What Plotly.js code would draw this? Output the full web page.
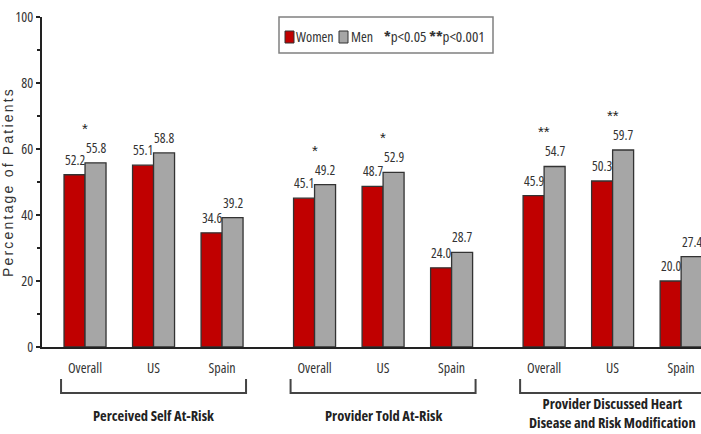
<!DOCTYPE html>
<html><head><meta charset="utf-8">
<script src="https://cdn.plot.ly/plotly-3.0.1.min.js"></script>
<style>html,body{margin:0;padding:0;background:#fff}#chart{width:701px;height:434px}
svg text{font-stretch:82%}
svg text.ytitle{font-stretch:100%;letter-spacing:2.2px}</style>
</head><body><div id="chart"></div>
<script>
// ---- data ----
const groups = ["Perceived Self At-Risk", "Provider Told At-Risk", "Provider Discussed Heart<br>Disease and Risk Modification"];
const subLabels = ["Overall", "US", "Spain"];
const women = [52.2, 55.1, 34.6, 45.1, 48.7, 24.0, 45.9, 50.3, 20.0];
const men = [55.8, 58.8, 39.2, 49.2, 52.9, 28.7, 54.7, 59.7, 27.4];
const significance = ["*", "", "", "*", "*", "", "**", "**", ""];
const seriesNames = ["Women", "Men"];
const pLegend = "<b>*</b>p&lt;0.05 <b>**</b>p&lt;0.001";
const yTicks = [0, 20, 40, 60, 80, 100];
const yMinor = [10, 30, 50, 70, 90];
const yTitle = "Percentage of Patients";

// ---- layout constants ----
const FONT = '"Open Sans", "Liberation Sans", Arial, sans-serif';
const TXT = '#333';
const RED = '#C00000', GRAY = '#A6A6A6', EDGE = '#333';
const GROUP_STRIDE = 3.35, BARGAP = 0.387;
const M = {l: 42, r: 0, t: 17, b: 87};
const W = 701 - M.l - M.r, H = 434 - M.t - M.b;
const PX = p => (p - M.l) / W;
const PY = p => (M.t + H - p) / H;

const pos = [], tickText = [];
groups.forEach((g, gi) => subLabels.forEach((s, si) => { pos.push(gi * GROUP_STRIDE + si); tickText.push(s); }));
const halfBar = (1 - BARGAP) / 4;

const traces = [women, men].map((vals, i) => ({
  type: 'bar', x: pos, y: vals, name: seriesNames[i], showlegend: false,
  marker: {color: i === 0 ? RED : GRAY, line: {color: EDGE, width: 1.3}},
  hoverinfo: 'y'
}));

const annotations = [];
[women, men].forEach((vals, i) => vals.forEach((v, k) => {
  annotations.push({x: pos[k] + (i === 0 ? -halfBar : halfBar), y: v, xref: 'x', yref: 'y',
    text: v.toFixed(1), showarrow: false, yanchor: 'bottom', yshift: 4,
    font: {family: FONT, size: 13.5, color: TXT}});
}));
significance.forEach((s, k) => {
  if (!s) return;
  annotations.push({x: pos[k], y: Math.max(women[k], men[k]), xref: 'x', yref: 'y',
    text: s, showarrow: false, yanchor: 'bottom', yshift: 24,
    font: {family: 'Liberation Sans, Arial, sans-serif', size: 15, color: '#222'}});
});
const shapes = [];
groups.forEach((g, gi) => {
  const x0 = pos[gi * 3] - 0.35, x1 = pos[gi * 3 + 2] + 0.35;
  shapes.push({type: 'path', xref: 'x', yref: 'paper',
    path: `M ${x0},${PY(379)} L ${x0},${PY(393)} L ${x1},${PY(393)} L ${x1},${PY(379)}`,
    line: {color: '#444', width: 2}});
  annotations.push({x: (pos[gi * 3] + pos[gi * 3 + 2]) / 2, xref: 'x', yref: 'paper',
    y: PY(gi === 2 ? 413 : 415), yanchor: 'middle', showarrow: false, text: '<b>' + g + '</b>',
    font: {family: FONT, size: 14.5, color: '#222'}});
});
// legend box
shapes.push({type: 'rect', xref: 'paper', yref: 'paper', x0: PX(279), x1: PX(493), y0: PY(53), y1: PY(17),
  line: {color: '#808080', width: 1.5}, fillcolor: 'rgba(0,0,0,0)'});
[[285, RED], [339, GRAY]].forEach(([px, c]) => shapes.push({type: 'rect', xref: 'paper', yref: 'paper',
  x0: PX(px), x1: PX(px + 9), y0: PY(43), y1: PY(31), fillcolor: c, line: {color: EDGE, width: 1}}));
[[294, seriesNames[0], 14], [349, seriesNames[1], 14], [382, pLegend, 15]].forEach(([px, t, fs]) => annotations.push({
  x: PX(px), y: PY(36), xref: 'paper', yref: 'paper', xanchor: 'left', yanchor: 'middle', showarrow: false,
  text: t, font: {family: FONT, size: fs, color: TXT}}));

const layout = {
  width: 701, height: 434, margin: M, paper_bgcolor: '#fff', plot_bgcolor: '#fff',
  barmode: 'group', bargap: BARGAP, bargroupgap: 0, showlegend: false,
  font: {family: FONT, color: TXT, size: 14},
  xaxis: {range: [-0.628, 8.99], tickvals: pos, ticktext: tickText, ticks: '', showgrid: false, zeroline: false,
    showline: true, linecolor: '#222', linewidth: 2, ticklabelstandoff: 7,
    tickfont: {family: FONT, size: 14, color: TXT}},
  yaxis: {range: [0, 100], tickvals: yTicks, ticks: 'outside', ticklen: 4, tickwidth: 1.5, tickcolor: '#222',
    showgrid: false, zeroline: false, showline: true, linecolor: '#222', linewidth: 2,
    minor: {tickvals: yMinor, ticks: 'outside', ticklen: 3, tickwidth: 1.5, tickcolor: '#222'},
    tickfont: {family: FONT, size: 14, color: TXT},
    title: {text: yTitle, font: {family: '"Liberation Sans", Arial, sans-serif', size: 14, color: TXT}, standoff: 5}},
  annotations, shapes
};
Plotly.newPlot('chart', traces, layout, {displayModeBar: false, staticPlot: true});
</script></body></html>
